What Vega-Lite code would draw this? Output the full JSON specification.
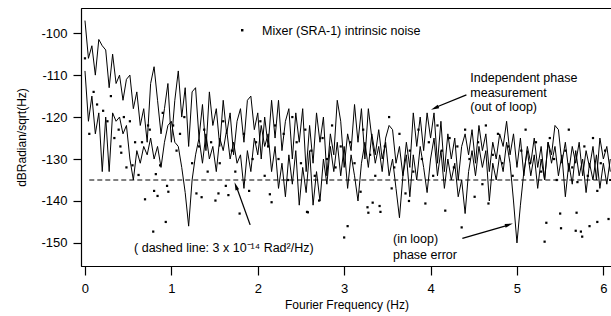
{
  "$schema": "https://vega.github.io/schema/vega-lite/v6.json",
  "width": 531,
  "height": 258,
  "autosize": {"type": "none"},
  "padding": {"left": 81, "top": 8, "right": 0, "bottom": 50},
  "background": "white",
  "config": {
    "view": {"stroke": "black", "strokeWidth": 1},
    "font": "Liberation Sans",
    "axis": {"domainColor": "black", "tickColor": "black", "labelColor": "black", "titleColor": "black", "grid": false, "labelFont": "Liberation Sans", "titleFont": "Liberation Sans", "labelFontSize": 13, "titleFontSize": 12, "titleFontWeight": "normal", "tickSize": 8, "domainWidth": 1.2, "tickWidth": 1.2}
  },
  "datasets": {
    "lines": [
      {"f":0.00,"v":-97,"s":"out"},{"f":0.04,"v":-106,"s":"out"},{"f":0.08,"v":-103,"s":"out"},{"f":0.12,"v":-110,"s":"out"},{"f":0.16,"v":-101.5,"s":"out"},{"f":0.20,"v":-103,"s":"out"},{"f":0.24,"v":-104,"s":"out"},{"f":0.28,"v":-113,"s":"out"},{"f":0.32,"v":-105,"s":"out"},{"f":0.36,"v":-112,"s":"out"},
      {"f":0.40,"v":-110,"s":"out"},{"f":0.44,"v":-116,"s":"out"},{"f":0.48,"v":-111,"s":"out"},{"f":0.52,"v":-110,"s":"out"},{"f":0.56,"v":-118,"s":"out"},{"f":0.60,"v":-114,"s":"out"},{"f":0.64,"v":-122,"s":"out"},{"f":0.68,"v":-118,"s":"out"},{"f":0.72,"v":-126,"s":"out"},{"f":0.76,"v":-112,"s":"out"},
      {"f":0.80,"v":-108,"s":"out"},{"f":0.84,"v":-116,"s":"out"},{"f":0.88,"v":-124,"s":"out"},{"f":0.92,"v":-118,"s":"out"},{"f":0.96,"v":-112,"s":"out"},{"f":1.00,"v":-126,"s":"out"},{"f":1.04,"v":-116,"s":"out"},{"f":1.08,"v":-109,"s":"out"},{"f":1.12,"v":-120,"s":"out"},{"f":1.16,"v":-113,"s":"out"},
      {"f":1.20,"v":-127,"s":"out"},{"f":1.24,"v":-114,"s":"out"},{"f":1.28,"v":-113,"s":"out"},{"f":1.32,"v":-125,"s":"out"},{"f":1.36,"v":-117,"s":"out"},{"f":1.40,"v":-128,"s":"out"},{"f":1.44,"v":-114,"s":"out"},{"f":1.48,"v":-122,"s":"out"},{"f":1.52,"v":-118,"s":"out"},{"f":1.56,"v":-127,"s":"out"},
      {"f":1.60,"v":-116,"s":"out"},{"f":1.64,"v":-124,"s":"out"},{"f":1.68,"v":-119,"s":"out"},{"f":1.72,"v":-129,"s":"out"},{"f":1.76,"v":-121,"s":"out"},{"f":1.80,"v":-118,"s":"out"},{"f":1.84,"v":-126,"s":"out"},{"f":1.88,"v":-116,"s":"out"},{"f":1.92,"v":-115,"s":"out"},{"f":1.96,"v":-123,"s":"out"},
      {"f":2.00,"v":-119,"s":"out"},{"f":2.04,"v":-130,"s":"out"},{"f":2.08,"v":-120,"s":"out"},{"f":2.12,"v":-127,"s":"out"},{"f":2.16,"v":-116,"s":"out"},{"f":2.20,"v":-125,"s":"out"},{"f":2.24,"v":-116,"s":"out"},{"f":2.28,"v":-128,"s":"out"},{"f":2.32,"v":-121,"s":"out"},{"f":2.36,"v":-118,"s":"out"},
      {"f":2.40,"v":-130,"s":"out"},{"f":2.44,"v":-119,"s":"out"},{"f":2.48,"v":-126,"s":"out"},{"f":2.52,"v":-118,"s":"out"},{"f":2.56,"v":-133,"s":"out"},{"f":2.60,"v":-122,"s":"out"},{"f":2.64,"v":-131,"s":"out"},{"f":2.68,"v":-119,"s":"out"},{"f":2.72,"v":-126,"s":"out"},{"f":2.76,"v":-120,"s":"out"},
      {"f":2.80,"v":-134,"s":"out"},{"f":2.84,"v":-124,"s":"out"},{"f":2.88,"v":-129,"s":"out"},{"f":2.92,"v":-116,"s":"out"},{"f":2.96,"v":-121,"s":"out"},{"f":3.00,"v":-132,"s":"out"},{"f":3.04,"v":-124,"s":"out"},{"f":3.08,"v":-128,"s":"out"},{"f":3.12,"v":-117,"s":"out"},{"f":3.16,"v":-126,"s":"out"},
      {"f":3.20,"v":-118,"s":"out"},{"f":3.24,"v":-130,"s":"out"},{"f":3.28,"v":-118,"s":"out"},{"f":3.32,"v":-125,"s":"out"},{"f":3.36,"v":-131,"s":"out"},{"f":3.40,"v":-127,"s":"out"},{"f":3.44,"v":-133,"s":"out"},{"f":3.48,"v":-125,"s":"out"},{"f":3.52,"v":-122,"s":"out"},{"f":3.56,"v":-123,"s":"out"},
      {"f":3.60,"v":-131,"s":"out"},{"f":3.64,"v":-127,"s":"out"},{"f":3.68,"v":-134,"s":"out"},{"f":3.72,"v":-126,"s":"out"},{"f":3.76,"v":-132,"s":"out"},{"f":3.80,"v":-119,"s":"out"},{"f":3.84,"v":-127,"s":"out"},{"f":3.88,"v":-120,"s":"out"},{"f":3.92,"v":-128,"s":"out"},{"f":3.96,"v":-119,"s":"out"},
      {"f":4.00,"v":-125,"s":"out"},{"f":4.04,"v":-119,"s":"out"},{"f":4.08,"v":-131,"s":"out"},{"f":4.12,"v":-121,"s":"out"},{"f":4.16,"v":-133,"s":"out"},{"f":4.20,"v":-124,"s":"out"},{"f":4.24,"v":-130,"s":"out"},{"f":4.28,"v":-125,"s":"out"},{"f":4.32,"v":-135,"s":"out"},{"f":4.36,"v":-127,"s":"out"},
      {"f":4.40,"v":-124,"s":"out"},{"f":4.44,"v":-129,"s":"out"},{"f":4.48,"v":-123,"s":"out"},{"f":4.52,"v":-131,"s":"out"},{"f":4.56,"v":-122,"s":"out"},{"f":4.60,"v":-128,"s":"out"},{"f":4.64,"v":-124,"s":"out"},{"f":4.68,"v":-133,"s":"out"},{"f":4.72,"v":-126,"s":"out"},{"f":4.76,"v":-130,"s":"out"},
      {"f":4.80,"v":-124,"s":"out"},{"f":4.84,"v":-127,"s":"out"},{"f":4.88,"v":-121,"s":"out"},{"f":4.92,"v":-129,"s":"out"},{"f":4.96,"v":-124,"s":"out"},{"f":5.00,"v":-132,"s":"out"},{"f":5.04,"v":-125,"s":"out"},{"f":5.08,"v":-134,"s":"out"},{"f":5.12,"v":-127,"s":"out"},{"f":5.16,"v":-131,"s":"out"},
      {"f":5.20,"v":-125,"s":"out"},{"f":5.24,"v":-132,"s":"out"},{"f":5.28,"v":-127,"s":"out"},{"f":5.32,"v":-135,"s":"out"},{"f":5.36,"v":-126,"s":"out"},{"f":5.40,"v":-129,"s":"out"},{"f":5.44,"v":-122,"s":"out"},{"f":5.48,"v":-123,"s":"out"},{"f":5.52,"v":-131,"s":"out"},{"f":5.56,"v":-126,"s":"out"},
      {"f":5.60,"v":-133,"s":"out"},{"f":5.64,"v":-127,"s":"out"},{"f":5.68,"v":-131,"s":"out"},{"f":5.72,"v":-126,"s":"out"},{"f":5.76,"v":-134,"s":"out"},{"f":5.80,"v":-128,"s":"out"},{"f":5.84,"v":-132,"s":"out"},{"f":5.88,"v":-127,"s":"out"},{"f":5.92,"v":-135,"s":"out"},{"f":5.96,"v":-125,"s":"out"},
      {"f":6.00,"v":-130,"s":"out"},{"f":6.04,"v":-127,"s":"out"},{"f":6.08,"v":-133,"s":"out"},
      {"f":0.00,"v":-109,"s":"in"},{"f":0.04,"v":-121,"s":"in"},{"f":0.08,"v":-115,"s":"in"},{"f":0.12,"v":-124,"s":"in"},{"f":0.16,"v":-119,"s":"in"},{"f":0.20,"v":-133,"s":"in"},{"f":0.24,"v":-120,"s":"in"},{"f":0.28,"v":-133,"s":"in"},{"f":0.32,"v":-119,"s":"in"},{"f":0.36,"v":-121,"s":"in"},
      {"f":0.40,"v":-120,"s":"in"},{"f":0.44,"v":-124,"s":"in"},{"f":0.48,"v":-122,"s":"in"},{"f":0.52,"v":-130,"s":"in"},{"f":0.56,"v":-135,"s":"in"},{"f":0.60,"v":-128,"s":"in"},{"f":0.64,"v":-131,"s":"in"},{"f":0.68,"v":-127,"s":"in"},{"f":0.72,"v":-129,"s":"in"},{"f":0.76,"v":-125,"s":"in"},
      {"f":0.80,"v":-130,"s":"in"},{"f":0.84,"v":-127,"s":"in"},{"f":0.88,"v":-132,"s":"in"},{"f":0.92,"v":-126,"s":"in"},{"f":0.96,"v":-122,"s":"in"},{"f":1.00,"v":-121,"s":"in"},{"f":1.04,"v":-126,"s":"in"},{"f":1.08,"v":-127,"s":"in"},{"f":1.12,"v":-132,"s":"in"},{"f":1.16,"v":-138,"s":"in"},
      {"f":1.20,"v":-146,"s":"in"},{"f":1.24,"v":-135,"s":"in"},{"f":1.28,"v":-129,"s":"in"},{"f":1.32,"v":-125,"s":"in"},{"f":1.36,"v":-131,"s":"in"},{"f":1.40,"v":-124,"s":"in"},{"f":1.44,"v":-130,"s":"in"},{"f":1.48,"v":-127,"s":"in"},{"f":1.52,"v":-133,"s":"in"},{"f":1.56,"v":-125,"s":"in"},
      {"f":1.60,"v":-128,"s":"in"},{"f":1.64,"v":-123,"s":"in"},{"f":1.68,"v":-130,"s":"in"},{"f":1.72,"v":-126,"s":"in"},{"f":1.76,"v":-131,"s":"in"},{"f":1.80,"v":-129,"s":"in"},{"f":1.84,"v":-137,"s":"in"},{"f":1.88,"v":-128,"s":"in"},{"f":1.92,"v":-133,"s":"in"},{"f":1.96,"v":-125,"s":"in"},
      {"f":2.00,"v":-129,"s":"in"},{"f":2.04,"v":-122,"s":"in"},{"f":2.08,"v":-127,"s":"in"},{"f":2.12,"v":-124,"s":"in"},{"f":2.16,"v":-133,"s":"in"},{"f":2.20,"v":-127,"s":"in"},{"f":2.24,"v":-137,"s":"in"},{"f":2.28,"v":-131,"s":"in"},{"f":2.32,"v":-139,"s":"in"},{"f":2.36,"v":-129,"s":"in"},
      {"f":2.40,"v":-136,"s":"in"},{"f":2.44,"v":-128,"s":"in"},{"f":2.48,"v":-141,"s":"in"},{"f":2.52,"v":-132,"s":"in"},{"f":2.56,"v":-138,"s":"in"},{"f":2.60,"v":-128,"s":"in"},{"f":2.64,"v":-141,"s":"in"},{"f":2.68,"v":-133,"s":"in"},{"f":2.72,"v":-140,"s":"in"},{"f":2.76,"v":-130,"s":"in"},
      {"f":2.80,"v":-136,"s":"in"},{"f":2.84,"v":-127,"s":"in"},{"f":2.88,"v":-133,"s":"in"},{"f":2.92,"v":-126,"s":"in"},{"f":2.96,"v":-134,"s":"in"},{"f":3.00,"v":-127,"s":"in"},{"f":3.04,"v":-137,"s":"in"},{"f":3.08,"v":-129,"s":"in"},{"f":3.12,"v":-134,"s":"in"},{"f":3.16,"v":-140,"s":"in"},
      {"f":3.20,"v":-131,"s":"in"},{"f":3.24,"v":-126,"s":"in"},{"f":3.28,"v":-132,"s":"in"},{"f":3.32,"v":-124,"s":"in"},{"f":3.36,"v":-129,"s":"in"},{"f":3.40,"v":-123,"s":"in"},{"f":3.44,"v":-130,"s":"in"},{"f":3.48,"v":-126,"s":"in"},{"f":3.52,"v":-134,"s":"in"},{"f":3.56,"v":-130,"s":"in"},
      {"f":3.60,"v":-137,"s":"in"},{"f":3.64,"v":-144,"s":"in"},{"f":3.68,"v":-134,"s":"in"},{"f":3.72,"v":-129,"s":"in"},{"f":3.76,"v":-139,"s":"in"},{"f":3.80,"v":-129,"s":"in"},{"f":3.84,"v":-135,"s":"in"},{"f":3.88,"v":-127,"s":"in"},{"f":3.92,"v":-132,"s":"in"},{"f":3.96,"v":-138,"s":"in"},
      {"f":4.00,"v":-130,"s":"in"},{"f":4.04,"v":-125,"s":"in"},{"f":4.08,"v":-134,"s":"in"},{"f":4.12,"v":-128,"s":"in"},{"f":4.16,"v":-137,"s":"in"},{"f":4.20,"v":-130,"s":"in"},{"f":4.24,"v":-135,"s":"in"},{"f":4.28,"v":-131,"s":"in"},{"f":4.32,"v":-139,"s":"in"},{"f":4.36,"v":-135,"s":"in"},
      {"f":4.40,"v":-143,"s":"in"},{"f":4.44,"v":-133,"s":"in"},{"f":4.48,"v":-128,"s":"in"},{"f":4.52,"v":-134,"s":"in"},{"f":4.56,"v":-127,"s":"in"},{"f":4.60,"v":-132,"s":"in"},{"f":4.64,"v":-128,"s":"in"},{"f":4.68,"v":-140,"s":"in"},{"f":4.72,"v":-131,"s":"in"},{"f":4.76,"v":-135,"s":"in"},
      {"f":4.80,"v":-129,"s":"in"},{"f":4.84,"v":-133,"s":"in"},{"f":4.88,"v":-126,"s":"in"},{"f":4.92,"v":-131,"s":"in"},{"f":4.96,"v":-140,"s":"in"},{"f":5.00,"v":-150,"s":"in"},{"f":5.04,"v":-141,"s":"in"},{"f":5.08,"v":-133,"s":"in"},{"f":5.12,"v":-128,"s":"in"},{"f":5.16,"v":-134,"s":"in"},
      {"f":5.20,"v":-129,"s":"in"},{"f":5.24,"v":-137,"s":"in"},{"f":5.28,"v":-130,"s":"in"},{"f":5.32,"v":-135,"s":"in"},{"f":5.36,"v":-126,"s":"in"},{"f":5.40,"v":-131,"s":"in"},{"f":5.44,"v":-127,"s":"in"},{"f":5.48,"v":-134,"s":"in"},{"f":5.52,"v":-129,"s":"in"},{"f":5.56,"v":-139,"s":"in"},
      {"f":5.60,"v":-131,"s":"in"},{"f":5.64,"v":-136,"s":"in"},{"f":5.68,"v":-128,"s":"in"},{"f":5.72,"v":-134,"s":"in"},{"f":5.76,"v":-130,"s":"in"},{"f":5.80,"v":-138,"s":"in"},{"f":5.84,"v":-131,"s":"in"},{"f":5.88,"v":-135,"s":"in"},{"f":5.92,"v":-129,"s":"in"},{"f":5.96,"v":-137,"s":"in"},
      {"f":6.00,"v":-131,"s":"in"},{"f":6.04,"v":-136,"s":"in"},{"f":6.08,"v":-130,"s":"in"}
    ],
    "dots": [
      {"f":0.00,"v":-106},{"f":0.05,"v":-124},{"f":0.10,"v":-114},{"f":0.14,"v":-117},{"f":0.21,"v":-118.5},{"f":0.26,"v":-121},{"f":0.30,"v":-115},{"f":0.34,"v":-125},{"f":0.39,"v":-123},{"f":0.41,"v":-127},
      {"f":0.42,"v":-128.5},{"f":0.45,"v":-120},{"f":0.48,"v":-132},{"f":0.52,"v":-121},{"f":0.55,"v":-131.5},{"f":0.58,"v":-126},{"f":0.62,"v":-133.8},{"f":0.66,"v":-126},{"f":0.695,"v":-139.6},{"f":0.73,"v":-122},
      {"f":0.75,"v":-123},{"f":0.79,"v":-147.3},{"f":0.80,"v":-137.6},{"f":0.82,"v":-133.6},{"f":0.84,"v":-138.8},{"f":0.87,"v":-131.5},{"f":0.90,"v":-119},{"f":0.935,"v":-145},{"f":0.95,"v":-136.4},{"f":0.965,"v":-137.8},
      {"f":1.02,"v":-122},{"f":1.06,"v":-128},{"f":1.10,"v":-124},{"f":1.15,"v":-120},{"f":1.24,"v":-131},{"f":1.29,"v":-138.2},{"f":1.32,"v":-127},{"f":1.35,"v":-139.1},{"f":1.38,"v":-123},{"f":1.42,"v":-133},
      {"f":1.46,"v":-126},{"f":1.51,"v":-139.9},{"f":1.545,"v":-138.2},{"f":1.56,"v":-131},{"f":1.60,"v":-121},{"f":1.63,"v":-136.4},{"f":1.66,"v":-138.6},{"f":1.70,"v":-128},{"f":1.74,"v":-133},{"f":1.79,"v":-143},
      {"f":1.84,"v":-124},{"f":1.90,"v":-137.6},{"f":1.94,"v":-130},{"f":1.98,"v":-126},{"f":2.03,"v":-121},{"f":2.08,"v":-134},{"f":2.12,"v":-127},{"f":2.14,"v":-138.4},{"f":2.16,"v":-140.3},{"f":2.20,"v":-122},
      {"f":2.24,"v":-130},{"f":2.30,"v":-124},{"f":2.35,"v":-135},{"f":2.40,"v":-120},{"f":2.45,"v":-126},{"f":2.50,"v":-131},{"f":2.55,"v":-123},{"f":2.57,"v":-142.6},{"f":2.58,"v":-142.7},{"f":2.62,"v":-128},
      {"f":2.66,"v":-134},{"f":2.71,"v":-139.9},{"f":2.75,"v":-125},{"f":2.80,"v":-130},{"f":2.86,"v":-122},{"f":2.90,"v":-132},{"f":2.96,"v":-127},{"f":3.00,"v":-148.7},{"f":3.04,"v":-146},{"f":3.07,"v":-126},
      {"f":3.12,"v":-131},{"f":3.19,"v":-137.8},{"f":3.22,"v":-123},{"f":3.27,"v":-141.5},{"f":3.28,"v":-142.8},{"f":3.30,"v":-129},{"f":3.33,"v":-140.4},{"f":3.36,"v":-134},{"f":3.41,"v":-141.2},{"f":3.42,"v":-142.6},
      {"f":3.47,"v":-127},{"f":3.52,"v":-120},{"f":3.55,"v":-137},{"f":3.58,"v":-132},{"f":3.64,"v":-124},{"f":3.71,"v":-138.2},{"f":3.75,"v":-140},{"f":3.76,"v":-128},{"f":3.80,"v":-133},{"f":3.86,"v":-123},
      {"f":3.90,"v":-130},{"f":3.94,"v":-140.6},{"f":3.98,"v":-126},{"f":4.03,"v":-134},{"f":4.08,"v":-122},{"f":4.13,"v":-128},{"f":4.17,"v":-142.3},{"f":4.22,"v":-125},{"f":4.27,"v":-132},{"f":4.31,"v":-127},
      {"f":4.36,"v":-146.3},{"f":4.40,"v":-123},{"f":4.45,"v":-130},{"f":4.51,"v":-139},{"f":4.55,"v":-126},{"f":4.60,"v":-136},{"f":4.64,"v":-122},{"f":4.67,"v":-140.6},{"f":4.72,"v":-129},{"f":4.78,"v":-124},
      {"f":4.83,"v":-131},{"f":4.90,"v":-127},{"f":4.95,"v":-134},{"f":5.05,"v":-128},{"f":5.10,"v":-123},{"f":5.15,"v":-131},{"f":5.22,"v":-126},{"f":5.28,"v":-133},{"f":5.32,"v":-149.7},{"f":5.34,"v":-145.2},
      {"f":5.38,"v":-125},{"f":5.43,"v":-130},{"f":5.46,"v":-135},{"f":5.50,"v":-143},{"f":5.51,"v":-146.5},{"f":5.56,"v":-128},{"f":5.60,"v":-123},{"f":5.64,"v":-132},{"f":5.68,"v":-147.1},{"f":5.69,"v":-142.8},
      {"f":5.70,"v":-135.5},{"f":5.74,"v":-147.3},{"f":5.755,"v":-148.5},{"f":5.78,"v":-127},{"f":5.82,"v":-134},{"f":5.84,"v":-146},{"f":5.88,"v":-125},{"f":5.93,"v":-145},{"f":5.93,"v":-137.6},{"f":5.97,"v":-131},
      {"f":6.02,"v":-128},{"f":6.06,"v":-144.3},{"f":6.08,"v":-135}
    ],
    "legenddot": [{"f":1.82,"v":-99.3}],
    "dash": [{"f":0.05,"f2":6.1,"v":-135}],
    "labels": [
      {"f":2.05,"v":-99.6,"t":"Mixer (SRA-1) intrinsic noise"},
      {"f":4.46,"v":-110.7,"t":"Independent phase"},
      {"f":4.46,"v":-114.2,"t":"measurement"},
      {"f":4.46,"v":-117.7,"t":"(out of loop)"},
      {"f":0.568,"v":-151.2,"t":"( dashed line: 3 x 10⁻¹⁴ Rad²/Hz)"},
      {"f":3.565,"v":-149.1,"t":"(in loop)"},
      {"f":3.565,"v":-152.9,"t":"phase error"}
    ],
    "arrows": [
      {"f":4.415,"v":-114.7,"f2":4.07,"v2":-117.6},
      {"f":1.912,"v":-145.7,"f2":1.76,"v2":-137.0},
      {"f":4.368,"v":-148.9,"f2":4.88,"v2":-145.9}
    ],
    "heads": [
      {"f":4.056,"v":-117.8,"a":247},
      {"f":1.750,"v":-136.6,"a":340},
      {"f":4.90,"v":-145.7,"a":74}
    ]
  },
  "encoding": {
    "x": {"field": "f", "type": "quantitative", "scale": {"domain": [-0.046, 6.1], "nice": false, "zero": false}, "axis": {"title": "Fourier Frequency (Hz)", "values": [0,1,2,3,4,5,6], "labelExpr": "'' + datum.value", "labelPadding": 7, "titlePadding": 4, "tickSize": 9}},
    "y": {"field": "v", "type": "quantitative", "scale": {"domain": [-155.5, -94], "nice": false, "zero": false}, "axis": {"title": "dBRadian/sqrt(Hz)", "values": [-150,-140,-130,-120,-110,-100], "labelExpr": "'' + datum.value", "labelPadding": 6, "titlePadding": 12}}
  },
  "layer": [
    {"data": {"name": "dash"}, "mark": {"type": "rule", "color": "black", "strokeWidth": 1, "strokeDash": [5, 3]}, "encoding": {"x2": {"field": "f2"}}},
    {"data": {"name": "dots"}, "mark": {"type": "point", "shape": "square", "filled": true, "color": "black", "size": 5, "opacity": 1}},
    {"data": {"name": "lines"}, "mark": {"type": "line", "color": "black", "strokeWidth": 1}, "encoding": {"detail": {"field": "s"}, "order": {"field": "f", "type": "quantitative"}}},
    {"data": {"name": "legenddot"}, "mark": {"type": "point", "shape": "square", "filled": true, "color": "black", "size": 6, "opacity": 1}},
    {"data": {"name": "labels"}, "mark": {"type": "text", "align": "left", "baseline": "middle", "fontSize": 12.5, "font": "Liberation Sans", "color": "black"}, "encoding": {"text": {"field": "t"}}},
    {"data": {"name": "arrows"}, "mark": {"type": "rule", "color": "black", "strokeWidth": 1.3}, "encoding": {"x2": {"field": "f2"}, "y2": {"field": "v2"}}},
    {"data": {"name": "heads"}, "mark": {"type": "point", "shape": "M0,-1L0.4,0.7L-0.4,0.7Z", "filled": true, "color": "black", "size": 90, "opacity": 1}, "encoding": {"angle": {"field": "a", "type": "quantitative", "scale": null}}}
  ]
}
